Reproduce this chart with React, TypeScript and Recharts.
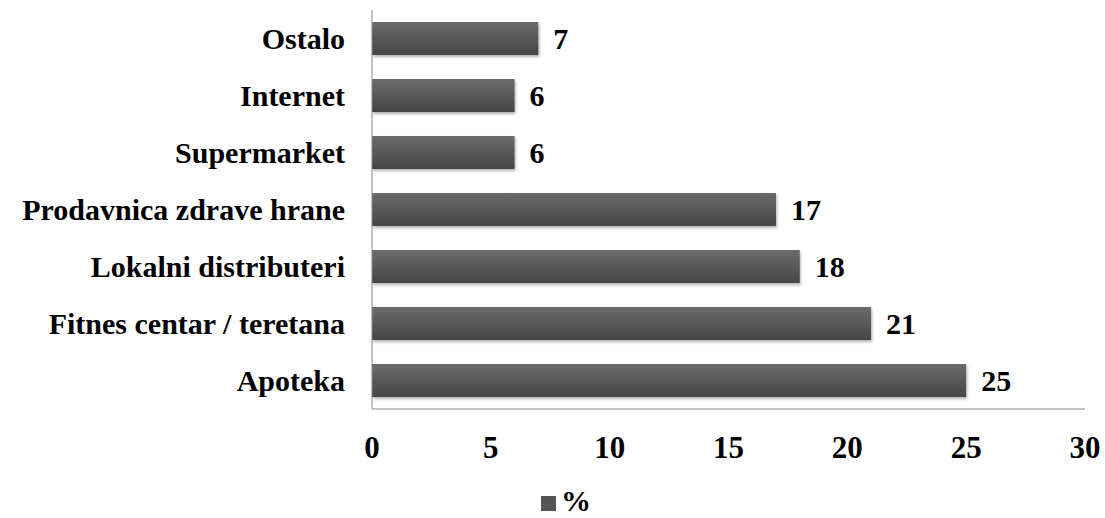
import { Bar, BarChart, LabelList, Legend, XAxis, YAxis } from "recharts";

const categories = [
  "Ostalo",
  "Internet",
  "Supermarket",
  "Prodavnica zdrave hrane",
  "Lokalni distributeri",
  "Fitnes centar / teretana",
  "Apoteka",
];
const percentValues = [7, 6, 6, 17, 18, 21, 25];
const xTicks = [0, 5, 10, 15, 20, 25, 30];

const data = categories.map((name, i) => ({ name, pct: percentValues[i] }));

const font = "Liberation Serif";

// legend: little gray square + "%" sitting at the very bottom
function PercentLegend() {
  return (
    <div style={{ position: "relative", height: 44, width: 1105, overflow: "hidden" }}>
      <span
        style={{
          position: "absolute",
          left: 541,
          top: 22,
          width: 15,
          height: 15,
          background: "#555",
        }}
      />
      <span
        style={{
          position: "absolute",
          left: 561,
          top: 12,
          fontFamily: font,
          fontWeight: 700,
          fontSize: 30,
          lineHeight: "30px",
          color: "#000",
        }}
      >
        %
      </span>
    </div>
  );
}

export default function App() {
  return (
    <div style={{ position: "absolute", left: 0, top: 0, background: "#fff" }}>
      <BarChart
        width={1105}
        height={518}
        data={data}
        layout="vertical"
        margin={{ top: 10, right: 20, left: 0, bottom: 0 }}
        barSize={33}
      >
        <defs>
          <linearGradient id="barFill" x1="0" y1="0" x2="0" y2="1">
            <stop offset="0%" stopColor="#6b6b6b" />
            <stop offset="100%" stopColor="#464646" />
          </linearGradient>
          <filter id="shadow" x="-5%" y="-20%" width="110%" height="150%">
            <feDropShadow dx="1" dy="2" stdDeviation="1.5" floodColor="#000" floodOpacity="0.3" />
          </filter>
        </defs>
        <XAxis
          type="number"
          domain={[0, 30]}
          ticks={xTicks}
          height={65}
          tickLine={false}
          tickSize={0}
          tickMargin={27}
          axisLine={{ stroke: "#868686" }}
          tick={{ fill: "#000", fontFamily: font, fontWeight: 700, fontSize: 31 }}
        />
        <YAxis
          type="category"
          dataKey="name"
          width={372}
          tickLine={false}
          tickSize={0}
          tickMargin={27}
          axisLine={{ stroke: "#868686" }}
          tick={{ fill: "#000", fontFamily: font, fontWeight: 700, fontSize: 30 }}
        />
        <Legend verticalAlign="bottom" height={44} content={() => <PercentLegend />} />
        <Bar
          dataKey="pct"
          name="%"
          fill="url(#barFill)"
          filter="url(#shadow)"
          isAnimationActive={false}
        >
          <LabelList
            dataKey="pct"
            position="right"
            offset={15}
            style={{ fill: "#000", fontFamily: font, fontWeight: 700, fontSize: 30 }}
          />
        </Bar>
      </BarChart>
    </div>
  );
}
